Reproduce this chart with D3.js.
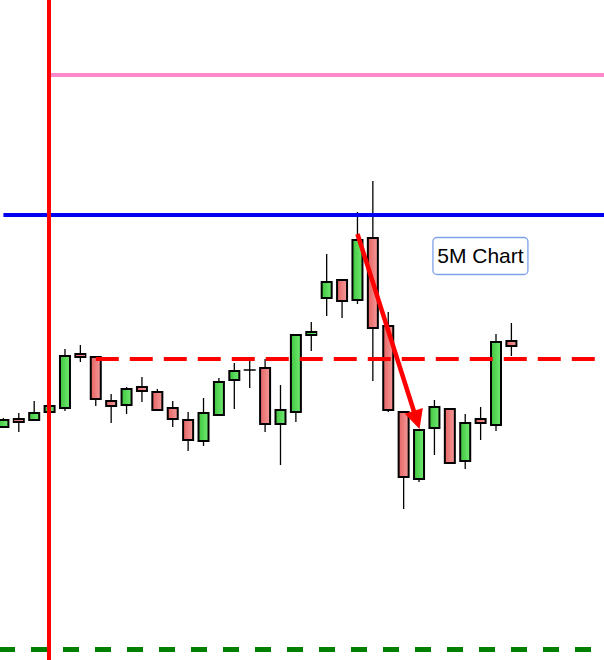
<!DOCTYPE html>
<html>
<head>
<meta charset="utf-8">
<script src="https://cdn.jsdelivr.net/npm/d3@7"></script>
<style>
html,body{margin:0;padding:0;background:#fff;}
svg{display:block;}
</style>
</head>
<body>
<svg id="chart" width="604" height="660"></svg>
<script>
// ---- data (price units) ----
const opens  = [233,241,240,248,252,306,303,259,255,273,268,252,240,219,245,280,290,292,236,248,325,362,380,360,422,334,248,181,232,251,199,241,235,319];
const highs  = [242,247,259,256,311,315,303,266,273,283,271,259,248,262,282,297,299,301,275,325,338,406,381,448,479,348,248,230,260,251,246,253,326,337];
const lows   = [232,228,240,247,249,298,254,237,246,258,250,233,209,214,245,251,272,228,195,238,309,344,342,356,279,248,151,178,205,197,191,220,229,304];
const closes = [240,238,247,254,304,303,261,254,271,269,250,241,220,247,278,289,290,236,250,325,328,378,359,420,332,250,183,230,253,197,237,237,318,314];

const pinkLevel = 585;
const blueLevel = 445;
const redDashLevel = 301;
const greenDashLevel = 10.5;
const vlineIndex = 3;
const arrowFrom = {i: 23, p: 426};
const arrowTo = {i: 27, p: 231};
const labelText = "5M Chart";

const W = 604, H = 660;
const svg = d3.select("#chart");
const x = d3.scaleLinear().domain([0, opens.length - 1]).range([3.4, 511.4]);
const y = d3.scaleLinear().domain([0, 660]).range([660, 0]);

const defs = svg.append("defs");
const gG = defs.append("linearGradient").attr("id","gGreen").attr("x1","0").attr("x2","1").attr("y1","0").attr("y2","0");
gG.append("stop").attr("offset","0").attr("stop-color","#3fc63f");
gG.append("stop").attr("offset","1").attr("stop-color","#72ea72");
const gR = defs.append("linearGradient").attr("id","gRed").attr("x1","0").attr("x2","1").attr("y1","0").attr("y2","0");
gR.append("stop").attr("offset","0").attr("stop-color","#e66464");
gR.append("stop").attr("offset","1").attr("stop-color","#f59a9a");

const data = opens.map((o,i)=>({i, o, h:highs[i], l:lows[i], c:closes[i]}));
const bodyW = 10;

const g = svg.append("g");
// wicks
g.selectAll("line.wick").data(data).join("line")
  .attr("x1", d=>x(d.i)).attr("x2", d=>x(d.i))
  .attr("y1", d=>y(d.h)).attr("y2", d=>y(d.l))
  .attr("stroke","#000").attr("stroke-width",1.3);
// bodies
g.selectAll("rect.body").data(data.filter(d=>d.o!==d.c)).join("rect")
  .attr("x", d=>x(d.i)-bodyW/2)
  .attr("y", d=>y(Math.max(d.o,d.c)))
  .attr("width", bodyW)
  .attr("height", d=>Math.abs(y(d.o)-y(d.c)))
  .attr("fill", d=>d.c>d.o ? "url(#gGreen)" : "url(#gRed)")
  .attr("stroke","#000").attr("stroke-width",2);
// doji
g.selectAll("line.doji").data(data.filter(d=>d.o===d.c)).join("line")
  .attr("x1", d=>x(d.i)-bodyW/2-1).attr("x2", d=>x(d.i)+bodyW/2+1)
  .attr("y1", d=>y(d.o)).attr("y2", d=>y(d.o))
  .attr("stroke","#000").attr("stroke-width",1.5);

// level lines
svg.append("line").attr("x1", x(vlineIndex)).attr("x2", W)
  .attr("y1", y(pinkLevel)).attr("y2", y(pinkLevel))
  .attr("stroke","#ff88c8").attr("stroke-width",4);
svg.append("line").attr("x1", x(0)).attr("x2", W)
  .attr("y1", y(blueLevel)).attr("y2", y(blueLevel))
  .attr("stroke","#0000f0").attr("stroke-width",4);
svg.append("line").attr("x1", x(6)).attr("x2", W)
  .attr("y1", y(redDashLevel)).attr("y2", y(redDashLevel))
  .attr("stroke","#ff0000").attr("stroke-width",4).attr("stroke-dasharray","23,11");
svg.append("line").attr("x1", 0).attr("x2", W)
  .attr("y1", y(greenDashLevel)).attr("y2", y(greenDashLevel))
  .attr("stroke","#008000").attr("stroke-width",5).attr("stroke-dasharray","16,16").attr("stroke-dashoffset",1);
svg.append("line").attr("x1", x(vlineIndex)-0.6).attr("x2", x(vlineIndex)-0.6)
  .attr("y1", 0).attr("y2", H)
  .attr("stroke","#ff0000").attr("stroke-width",4);

// arrow
const x0 = x(arrowFrom.i), y0 = y(arrowFrom.p), x1 = x(arrowTo.i)+0.5, y1 = y(arrowTo.p);
const dx = x1-x0, dy = y1-y0, len = Math.hypot(dx,dy), ux = dx/len, uy = dy/len;
const headL = 19, headW = 9.5;
const bx = x1 - ux*headL, by = y1 - uy*headL;
svg.append("line").attr("x1",x0).attr("y1",y0).attr("x2",bx+ux*2).attr("y2",by+uy*2)
  .attr("stroke","#ff0000").attr("stroke-width",4.5);
svg.append("polygon")
  .attr("points", [[x1,y1],[bx - uy*headW, by + ux*headW],[bx + uy*headW, by - ux*headW]].map(p=>p.join(",")).join(" "))
  .attr("fill","#ff0000");

// label
const lab = svg.append("g").attr("transform", `translate(${x(28)-2},237)`);
lab.append("rect").attr("x",0.5).attr("y",0.5).attr("width",95).attr("height",37).attr("rx",4)
  .attr("fill","#fff").attr("stroke","#7ea2ea").attr("stroke-width",1.3);
lab.append("text").attr("x",48).attr("y",25.5).attr("text-anchor","middle")
  .attr("font-family","Liberation Sans, Arial, sans-serif").attr("font-size",21)
  .attr("fill","#000").text(labelText);
</script>
</body>
</html>
